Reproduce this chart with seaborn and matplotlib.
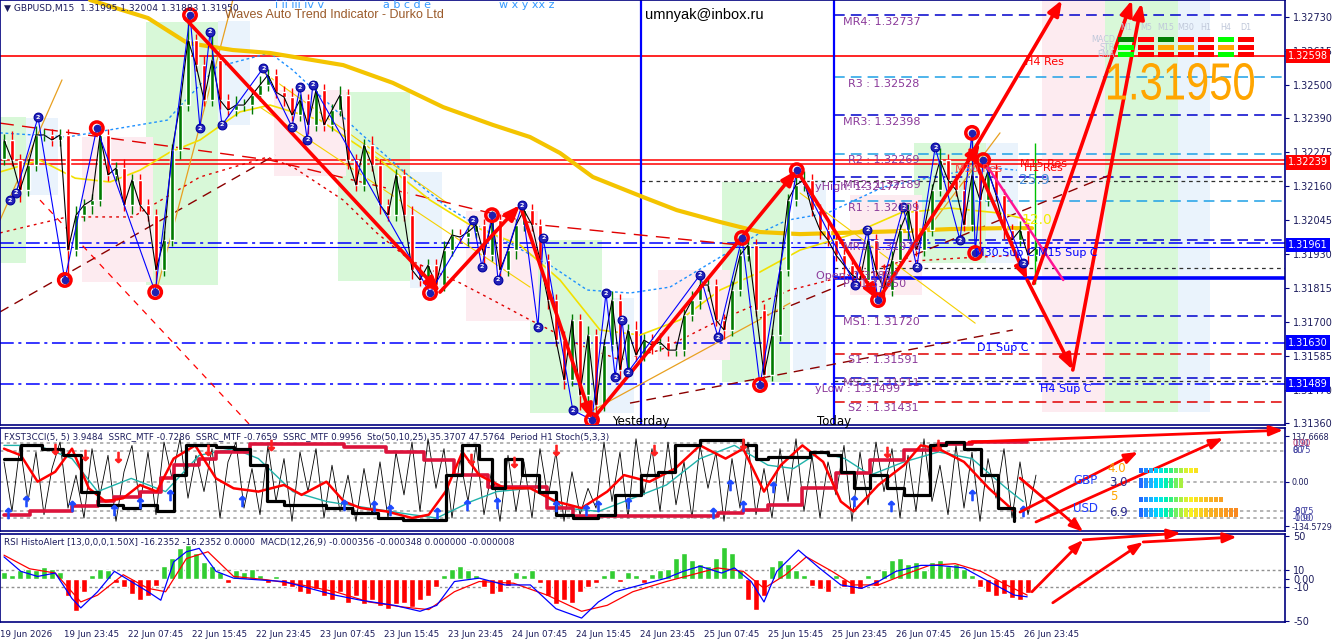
import numpy as np
import pandas as pd
import seaborn as sns
import matplotlib.pyplot as plt
import matplotlib.transforms as mtransforms
from matplotlib.patches import Rectangle, PathPatch
from matplotlib.textpath import TextPath
from matplotlib.font_manager import FontProperties

sns.set_style("white")
plt.rcParams["font.family"] = ["DejaVu Sans"]

# ---------------- price data (hourly) ----------------
first_open = 1.32250
close = [1.32315, 1.32247, 1.32146, 1.32230, 1.32332, 1.32332, 1.32315, 1.32332, 1.31943, 1.32061,
         1.32095, 1.32112, 1.32332, 1.32197, 1.32220, 1.32095, 1.32180, 1.32095, 1.32061, 1.31876,
         1.31977, 1.32281, 1.32433, 1.32653, 1.32568, 1.32450, 1.32585, 1.32450, 1.32416, 1.32433,
         1.32433, 1.32467, 1.32501, 1.32535, 1.32477, 1.32460, 1.32399, 1.32450, 1.32366, 1.32484,
         1.32366, 1.32416, 1.32467, 1.32247, 1.32163, 1.32298, 1.32230, 1.32095, 1.32061, 1.32197,
         1.32061, 1.31876, 1.31842, 1.31892, 1.31825, 1.31943, 1.31994, 1.31987, 1.32004, 1.32028,
         1.31926, 1.32045, 1.31876, 1.31943, 1.32028, 1.32078, 1.32028, 1.31909, 1.31774, 1.31639,
         1.31504, 1.31707, 1.31453, 1.31656, 1.31419, 1.31622, 1.31774, 1.31538, 1.31673, 1.31588,
         1.31639, 1.31622, 1.31632, 1.31605, 1.31605, 1.31723, 1.31774, 1.31825, 1.31825, 1.31707,
         1.31673, 1.31808, 1.31926, 1.31960, 1.31740, 1.31521, 1.31656, 1.31876, 1.32112, 1.32163,
         1.32180, 1.32078, 1.32011, 1.31977, 1.31926, 1.31892, 1.31859, 1.31842, 1.31977, 1.31876,
         1.31808, 1.31909, 1.32011, 1.32078, 1.31943, 1.32011, 1.32146, 1.32247, 1.32180, 1.32146,
         1.32028, 1.32197, 1.32112, 1.32214, 1.32129, 1.32011, 1.31977, 1.32011, 1.31926, 1.31950]
wick_up = [2, 3, 2, 2, 3, 2, 2, 2, 2, 3, 2, 2, 3, 2, 2, 3, 2, 2, 2, 2,
           3, 2, 2, 9, 2, 3, 9, 2, 2, 3, 2, 2, 3, 2, 2, 2, 3, 2, 2, 3,
           2, 2, 3, 2, 2, 2, 3, 2, 2, 2, 2, 3, 2, 2, 2, 3, 2, 2, 2, 3,
           2, 3, 2, 2, 2, 3, 2, 2, 2, 2, 3, 2, 2, 3, 2, 2, 3, 2, 2, 3,
           2, 2, 3, 2, 2, 2, 3, 2, 2, 2, 2, 3, 2, 2, 2, 2, 2, 3, 2, 3,
           3, 2, 2, 3, 2, 2, 2, 3, 2, 2, 2, 3, 2, 2, 3, 2, 2, 4, 2, 2,
           3, 14, 2, 3, 2, 2, 2, 3, 2, 2]
wick_dn = [2, 2, 4, 2, 2, 2, 2, 2, 10, 2, 2, 3, 2, 2, 2, 2, 3, 2, 2, 5,
           2, 2, 3, 2, 2, 2, 2, 3, 2, 2, 2, 3, 2, 2, 2, 3, 2, 2, 3, 2,
           2, 2, 2, 3, 2, 2, 2, 3, 2, 2, 2, 3, 2, 2, 3, 2, 2, 2, 3, 2,
           3, 2, 2, 2, 3, 2, 2, 2, 3, 2, 3, 2, 5, 2, 5, 2, 2, 3, 2, 2,
           2, 3, 2, 2, 2, 2, 2, 3, 2, 2, 3, 2, 2, 2, 2, 4, 2, 2, 2, 2,
           2, 2, 3, 2, 2, 3, 2, 2, 3, 2, 3, 2, 2, 3, 2, 2, 2, 2, 3, 2,
           2, 2, 18, 2, 2, 3, 2, 2, 3, 2]

# moving averages / bands (hour index, price)
ma_gold_h = [10.75, 18, 22.9, 28.6, 33.25, 42.4, 48.6, 54.9, 61.1, 65.75, 69.5, 73.6, 79.9, 84.1, 89.5, 94.5, 99.5, 112, 118.25, 124.5, 128.5]
ma_gold_p = [1.32788, 1.32727, 1.32643, 1.32619, 1.32609, 1.32568, 1.32508, 1.32426, 1.32366, 1.32325, 1.32271, 1.32190, 1.32122, 1.32078, 1.32038, 1.32004, 1.31997, 1.32007, 1.32014, 1.32017, 1.32017]
ma_yel_h = [-0.5, 4.5, 8.9, 13.25, 17, 20.75, 24.5, 29.5, 33.25, 39.5, 47, 53.25, 58.25, 64.5, 69.5, 74.5, 79.5, 84.5, 89.5, 94.5, 99.5, 105.75, 112, 118.25, 124.5, 128.25]
ma_yel_p = [1.32207, 1.32247, 1.32186, 1.32173, 1.32213, 1.32274, 1.32315, 1.32410, 1.32433, 1.32382, 1.32247, 1.32112, 1.32028, 1.31960, 1.31842, 1.31673, 1.31656, 1.31707, 1.31808, 1.31869, 1.31943, 1.31994, 1.32068, 1.32085, 1.32068, 1.32044]
ma_dot_h = [-0.5, 7.9, 20.4, 26.6, 33.25, 36.1, 44.5, 50.75, 55.4, 59.5, 68.6, 72.9, 78.25, 83.25, 89.5, 94.5, 97.9, 102.9, 109.9, 116.1, 122.4, 126.6]
ma_dot_p = [1.32339, 1.32325, 1.32382, 1.32562, 1.32609, 1.32551, 1.32339, 1.32190, 1.32088, 1.32021, 1.31886, 1.31808, 1.31798, 1.31818, 1.31919, 1.32001, 1.32044, 1.32068, 1.32156, 1.32190, 1.32224, 1.32213]
band_h = [-0.5, 7.9, 16.1, 24.5, 32.9, 36.1, 42.4, 46.6, 50.75, 57, 61.1, 65.75, 72, 77, 82, 89.5, 98.25, 105.75, 112, 119.5, 127]
band_p = [1.32001, 1.32055, 1.32055, 1.32190, 1.32257, 1.32224, 1.32112, 1.32001, 1.31909, 1.31832, 1.31774, 1.31707, 1.31622, 1.31572, 1.31605, 1.31707, 1.31808, 1.31859, 1.31903, 1.31916, 1.31926]
redlong_h = [-0.5, 33.25, 67, 92]
redlong_p = [1.32372, 1.32247, 1.32028, 1.31960]

# straight trend lines: (h0, p0, h1, p1)
trend_darkred = [(-0.5, 1.31734, 33.9, 1.32264), (78.25, 1.31426, 126.1, 1.31673), (94.5, 1.31713, 138.25, 1.32197)]
trend_red = [(4.5, 1.32112, 30.75, 1.31352)]
trend_orange = [(-0.5, 1.32044, 7.25, 1.32518), (19.1, 1.31808, 28.6, 1.32788), (73.6, 1.31402, 98.25, 1.31764), (109.5, 1.31798, 124.5, 1.32339)]
trend_yellow = [(99.5, 1.32136, 121.4, 1.31696), (32, 1.32551, 55.4, 1.32102), (32, 1.32426, 65.75, 1.31818)]

# wave zones (hour start, hour end, low, high)
zone_g = [(-0.5, 2.75, 1.31899, 1.32392), (17.75, 26.75, 1.31825, 1.32714), (41.75, 50.75, 1.31838, 1.32477), (65.75, 74.75, 1.31392, 1.31977),
          (89.75, 98.25, 1.31497, 1.32173), (113.75, 122.75, 1.31899, 1.32305), (137.6, 146.75, 1.31396, 1.32788)]
zone_p = [(9.75, 18.6, 1.31835, 1.32325), (33.75, 42.75, 1.32193, 1.32484), (57.75, 66.75, 1.31703, 1.32075), (81.75, 90.75, 1.31572, 1.31876),
          (105.75, 114.75, 1.31791, 1.32129), (129.75, 137.6, 1.31396, 1.32788)]
zone_b = [(2.75, 6.75, 1.32129, 1.32389), (26.75, 30.75, 1.32366, 1.32717), (50.75, 54.75, 1.31815, 1.32207), (74.75, 78.75, 1.31392, 1.31781),
          (98.6, 102.75, 1.31538, 1.32180), (122.75, 126.75, 1.31899, 1.32305), (146.75, 150.75, 1.31396, 1.32788)]

# zigzag swing points
swing_red_h = [7.6, 11.6, 18.9, 23.25, 53.25, 61, 73.5, 92.25, 94.5, 99.1, 109.25, 121, 121.4, 122.4]
swing_red_p = [1.31842, 1.32355, 1.31801, 1.32737, 1.31798, 1.32061, 1.31369, 1.31984, 1.31487, 1.32213, 1.31774, 1.32339, 1.31933, 1.32247]
swing_blue_h = [0.75, 1.5, 4.25, 24.5, 25.75, 27.25, 32.4, 36, 37, 37.9, 38.6, 58.6, 59.75, 61.75, 64.75, 66.75, 67.4, 71.1, 75.25,
                76.4, 77.25, 78, 87, 89.25, 106.4, 107.9, 112.4, 114.1, 116.4, 119.5, 127.4]
swing_blue_p = [1.32112, 1.32136, 1.32392, 1.32355, 1.32680, 1.32366, 1.32558, 1.32359, 1.32494, 1.32315, 1.32501, 1.32044, 1.31886,
                1.31842, 1.32095, 1.31683, 1.31984, 1.31402, 1.31798, 1.31514, 1.31707, 1.31531, 1.31859, 1.31649, 1.31825, 1.32011,
                1.32088, 1.31886, 1.32291, 1.31977, 1.31899]

# big forecast arrows (h0, p0, h1, p1)
wave_arrows = [(22.6, 1.32727, 54.5, 1.31801), (54.5, 1.31801, 64.5, 1.32095), (64.5, 1.32095, 73.5, 1.31369),
               (73.5, 1.31369, 99.1, 1.32213), (99.1, 1.32213, 109.25, 1.31774), (109.25, 1.31774, 122, 1.32305),
               (120.5, 1.32247, 132.25, 1.32788), (120.75, 1.32281, 127.9, 1.31842), (127.9, 1.31842, 133.6, 1.31538),
               (133.6, 1.31538, 142.2, 1.32778), (128.7, 1.31830, 141.0, 1.32788)]

# pivot levels
pivot_names = ["MR4", "R3 ", "MR3", "R2 ", "MR2", "R1 ", "MR1", "P ", "MS1", "S1 ", "MS2", "S2 "]
pivot_values = [1.32737, 1.32528, 1.32398, 1.32269, 1.32189, 1.32109, 1.31976, 1.31850, 1.31720, 1.31591, 1.31511, 1.31431]
today_open = 1.31882
y_high = 1.32177
y_low = 1.31499

price_ticks = [1.32730, 1.32615, 1.32500, 1.32390, 1.32275, 1.32160, 1.32045, 1.31930, 1.31815, 1.31700, 1.31585, 1.31470, 1.31360]
box_prices = [1.32598, 1.32239, 1.31961, 1.31630, 1.31489]

# ---------------- oscillators ----------------
cci_fast = [60, -90, 110, -60, 90, -100, 40, 120, -80, 20, -110, 100, -40, 80, -120, 30, 110, -70, 90, -100,
            120, 10, 130, -50, 80, -30, 100, -110, 60, 120, -80, 40, -100, 110, -60, 70, -120, 90, -30, 100,
            -110, 50, -90, 20, -120, 40, -100, 60, -110, 90, -40, 120, -90, 130, -20, 100, -110, 70, -60, 110,
            -100, 40, -120, 80, -90, 60, -110, 100, -50, 90, -120, 30, -100, -20, -80, 120, -60, 90, -110, 130,
            -40, 100, -90, 120, -70, 60, -110, 110, -20, 90, -120, 70, -80, 120, -100, 40, -110, 100, -60, 130,
            -90, 80, -110, 60, -40, 110, -120, 90, -70, 120, -30, 100, -110, 80, -90, 130, -60, 50, -100, 110,
            -80, 90, -120, 70, -50, 100, -110, 60, -100, 20]
stoch_h = [0, 2.1, 4.8, 7.4, 9.6, 11.7, 14.9, 17, 19.1, 21.2, 22.8, 26.5, 28.7, 30.8, 32.9, 35, 37.2, 40.3, 43.5, 46.7,
           49.9, 53.1, 55.2, 57.3, 59.4, 61, 62.6, 64.8, 66.9, 69, 71.1, 74.3, 76.4, 79.6, 81.7, 83.9, 87, 90.2, 92.4, 94,
           95.5, 98.7, 100.8, 103, 104.6, 106.2, 108.3, 110.4, 112.5, 115.7, 117.8, 120, 122.1, 124.2, 126.3]
stoch_v = [70, 110, 100, 80, -30, -70, -80, -70, -90, 20, 110, 105, 100, 50, -60, -70, -70, -80, -95, -110,
           -115, -115, 20, 110, 70, -20, 70, 20, -30, -100, -110, -100, -40, 20, 30, 110, 125, 125, 110, 70,
           75, 75, 90, 80, 30, -20, 20, -20, -40, 110, 120, 100, 20, -80, -120]
ssrc_h = [0, 2.1, 4.2, 6.4, 8.5, 10.6, 12.7, 14.9, 17, 19.1, 21.2, 23.9, 26.5, 28.7, 31.8, 35, 37.2, 40.3, 42.5, 44.6,
          47.8, 51, 53.1, 55.2, 57.3, 59.4, 62.6, 65.8, 69, 72.2, 75.4, 77.5, 80.7, 83.9, 87, 90.2, 92.4, 95, 97.1, 99.8,
          102.4, 104.6, 106.2, 109.3, 112.5, 114.6, 116.8, 120, 123.1, 126.3]
ssrc_v = [100, 80, 0, 30, 100, -20, -60, -50, -10, -30, 70, 110, 10, -20, -30, -10, -40, 0, -60, -80,
          -90, -110, -100, -30, 90, 20, -20, -20, -60, -80, -30, 20, 0, 40, 110, 70, 100, -30, 50, 110,
          60, -60, -90, -10, 50, 110, 100, 60, -20, -90]
teal_h = [0, 4.2, 8.5, 11.7, 15.9, 20.2, 24.4, 28.7, 31.8, 36.1, 40.3, 45.6, 51, 54.1, 58.4, 61.6, 65.8, 70.1, 74.3, 78.6,
          82.8, 87, 91.3, 95.5, 98.7, 101.9, 105.1, 108.3, 112.5, 116.8, 121, 125.3, 127.4]
teal_v = [110, 110, 70, -30, 10, -30, 80, 100, 70, -30, -60, -80, -100, -110, -60, -30, -20, -80, -90, -50,
          -10, 70, 110, 50, 40, 90, 70, 20, 60, 90, 70, -20, -60]
h1_h = [0, 3.2, 8.5, 11.7, 13.8, 17, 19.6, 21.2, 24.4, 26.5, 30.8, 42.5, 47.8, 52.5, 56.3, 60.5, 67.9, 71.1, 89.2, 92.4,
        95.5, 99.8, 104, 108.3, 112.5, 116.8, 121, 127.9]
h1_v = [-100, -88, -75, -60, -45, -30, 10, 50, 70, 90, 115, 105, 90, 65, 20, -15, -80, -105, -95, -85,
        -70, -20, 25, 65, 95, 115, 120, 120]
up_sig_h = [0.5, 2.7, 8.5, 13.8, 17, 20.7, 29.7, 42.5, 46.2, 48.3, 54.1, 57.9, 61.6, 69, 72.7, 74.3, 78, 88.6, 90.8, 92.4, 96.1, 106.2, 110.9, 121, 127.4]
up_sig_v = [-95, -60, -75, -85, -65, -40, -60, -70, -75, -85, -95, -70, -65, -75, -85, -75, -65, -95, -10, -75, -15, -60, -75, -40, -90]
dn_sig_h = [6.4, 10.1, 14.3, 25.5, 33.4, 58.4, 63.7, 69, 81.2, 92.4, 110.4, 116.8]
dn_sig_v = [100, 80, 75, 95, 110, 70, 60, 95, 95, 115, 90, 110]

rsi_histo = [8, 5, 10, 12, 10, 14, 12, 8, -20, -38, -15, 5, 12, 10, -5, -10, -18, -25, -20, -8,
             15, 25, 36, 40, 30, 20, 15, 8, -5, 10, 8, 12, 5, -5, 3, -8, -10, -15, -18, -12,
             -20, -25, -15, -28, -20, -30, -25, -32, -35, -30, -28, -33, -25, -20, -10, 5, 12, 15, 10, 5,
             -10, -18, -15, -8, 8, 5, 10, -5, -20, -30, -25, -28, -15, -10, -5, 5, 10, -3, 8, 5,
             -5, 6, 10, 12, 25, 30, 22, 18, 15, 25, 38, 30, 10, -25, -36, -20, 15, 22, 18, 10,
             5, -8, -12, -15, 5, -10, -18, -12, 5, -8, 10, 22, 25, 18, 20, 10, 20, 22, 15, 18,
             12, 5, -10, -15, -20, -18, -22, -25, -16]
macd_h = [0, 2.1, 4.2, 6.4, 8.5, 9.6, 11.7, 13.8, 15.9, 18, 19.6, 21.2, 22.8, 24.4, 26.5, 28.7, 31.8, 35, 38.2, 41.4,
          44.6, 48.8, 52, 54.1, 56.3, 59.4, 62.6, 65.8, 69, 72.2, 74.3, 76.4, 79.6, 82.8, 84.9, 87, 89.7, 91.3, 93.4, 95,
          96.6, 99.3, 101.9, 104.6, 107.2, 109.3, 111.5, 114.6, 116.8, 120, 123.1, 126.3, 127.9]
macd_v = [26, 9, 3, 7, -23, -34, -15, 9, -3, -15, -25, 20, 32, 36, 9, 1, -1, -3, -11, -19,
          -25, -31, -38, -31, -3, 1, -7, -7, -35, -46, -27, -15, -7, 1, 9, 15, 7, 13, -3, -27,
          9, 34, 13, -7, -11, -3, 9, 16, 16, 13, -3, -19, -21]
signal_h = [0, 3.2, 6.4, 9.6, 11.7, 14.9, 18, 20.2, 22.8, 25.5, 28.7, 32.9, 37.2, 41.4, 45.6, 49.9, 53.1, 56.3, 59.4, 63.7,
            67.9, 72.2, 75.4, 78.6, 82.8, 86, 89.2, 92.4, 95, 97.7, 100.3, 103.5, 106.2, 109.3, 112.5, 115.7, 118.9, 122.1, 125.3, 127.9]
signal_v = [28, 12, 7, -27, -19, 5, -11, -15, 24, 32, 3, -1, -7, -15, -27, -33, -36, -15, -3, -5,
            -19, -38, -31, -15, -3, 5, 13, 9, -11, 5, 26, 9, -7, -7, 5, 16, 18, 9, -7, -19]

time_labels = ["19 Jun 2026", "19 Jun 23:45", "22 Jun 07:45", "22 Jun 15:45", "22 Jun 23:45", "23 Jun 07:45",
               "23 Jun 15:45", "23 Jun 23:45", "24 Jun 07:45", "24 Jun 15:45", "24 Jun 23:45", "25 Jun 07:45",
               "25 Jun 15:45", "25 Jun 23:45", "26 Jun 07:45", "26 Jun 15:45", "26 Jun 23:45"]

# ---------------- figure ----------------
W, H = 1332, 639
NAVY = "#00007F"
TXT = "#1C1C5C"
PURP = "#8B3A9A"
XL = (-0.5, 160.125)


def fx(px):
    return px / W


def fy(py):
    return 1 - py / H


fig = plt.figure(figsize=(W / 100, H / 100), dpi=100)
fig.patch.set_facecolor("white")
AW = 1285 / W
ax1 = fig.add_axes([0, fy(425), AW, 425 / H])
ax2 = fig.add_axes([0, fy(531), AW, 103 / H])
ax3 = fig.add_axes([0, fy(622), AW, 88 / H])

for ax in (ax1, ax2, ax3):
    ax.set_xlim(*XL)
    for s in ax.spines.values():
        s.set_color(NAVY)
        s.set_linewidth(1.2)
    ax.yaxis.tick_right()
    ax.tick_params(axis="y", direction="out", length=3, width=0.8, color=NAVY,
                   labelsize=7, labelcolor=TXT, pad=3)
    ax.set_xticks([])

# ======== main price panel ========
ax1.set_ylim(1.31352, 1.32788)

for z, col in ((zone_g, "#D8F8D8"), (zone_p, "#FDEBF0"), (zone_b, "#EAF3FC")):
    for h0, h1, lo, hi in z:
        ax1.add_patch(Rectangle((h0, lo), h1 - h0, hi - lo, facecolor=col, edgecolor="none", zorder=0))

# full-width levels
ax1.axhline(1.32598, color="red", lw=1.2, zorder=1)
ax1.axhline(1.32247, color="red", lw=1.1, zorder=1)
ax1.axhline(1.32234, color="red", lw=1.1, zorder=1)
dashdot = (0, (9, 3, 2, 3))
for lvl in (1.31966, 1.31630, 1.31489):
    ax1.axhline(lvl, color="#0000FF", lw=1.1, ls=dashdot, zorder=1)
ax1.axhline(1.31955, color="#0000FF", lw=0.8, zorder=1)

# pivot levels from today
today_h, yday_h = 103.75, 79.6
for name, v in zip(pivot_names, pivot_values):
    if name.startswith("M"):
        ax1.hlines(v, today_h, XL[1], color="#0000CC", lw=1.1, ls=(0, (7, 4)), zorder=1)
    elif name.startswith("P"):
        ax1.hlines(v, today_h, XL[1], color="#0000FF", lw=2.6, zorder=1)
    elif name.startswith("R"):
        ax1.hlines(v, today_h, XL[1], color="#1EA0E6", lw=1.1, ls=(0, (7, 4)), zorder=1)
    else:
        ax1.hlines(v, today_h, XL[1], color="#E00000", lw=1.1, ls=(0, (7, 4)), zorder=1)
ax1.hlines(today_open, today_h, XL[1], color="#303030", lw=0.9, ls=(0, (3, 3)), zorder=1)
ax1.hlines(y_high, yday_h, XL[1], color="#303030", lw=0.9, ls=(0, (3, 3)), zorder=1)
ax1.hlines(y_low, today_h, XL[1], color="#303030", lw=0.9, ls=(0, (3, 3)), zorder=1)

ax1.axvline(yday_h, color="#0000FF", lw=1.6, zorder=2)
ax1.axvline(today_h, color="#0000FF", lw=1.6, zorder=2)

# trend lines
for h0, p0, h1, p1 in trend_darkred:
    ax1.plot([h0, h1], [p0, p1], color="#8B0000", lw=1.0, ls=(0, (7, 5)), zorder=2)
for h0, p0, h1, p1 in trend_red:
    ax1.plot([h0, h1], [p0, p1], color="#FF0000", lw=0.9, ls=(0, (5, 5)), zorder=2)
for h0, p0, h1, p1 in trend_orange:
    ax1.plot([h0, h1], [p0, p1], color="#E8A020", lw=0.9, zorder=2)
for h0, p0, h1, p1 in trend_yellow:
    ax1.plot([h0, h1], [p0, p1], color="#F5D000", lw=0.8, zorder=2)

sns.lineplot(x=band_h, y=band_p, ax=ax1, color="#E00000", lw=1.0, ls=(0, (2, 3)), sort=False, estimator=None, zorder=2)
sns.lineplot(x=redlong_h, y=redlong_p, ax=ax1, color="#E00000", lw=1.0, ls=(0, (10, 6)), sort=False, estimator=None, zorder=2)
sns.lineplot(x=ma_dot_h, y=ma_dot_p, ax=ax1, color="#1E90FF", lw=1.0, ls=(0, (2, 2)), sort=False, estimator=None, zorder=2)
sns.lineplot(x=ma_yel_h, y=ma_yel_p, ax=ax1, color="#F2E000", lw=1.2, sort=False, estimator=None, zorder=2)
sns.lineplot(x=ma_gold_h, y=ma_gold_p, ax=ax1, color="#F4C400", lw=3.0, sort=False, estimator=None, zorder=3)

# candles
k = np.arange(len(close))
opens = np.array([first_open] + close[:-1])
closes = np.array(close)
highs = np.maximum(opens, closes) + np.array(wick_up) * 0.0001
lows = np.minimum(opens, closes) - np.array(wick_dn) * 0.0001
cols = np.where(closes >= opens, "#007A00", "#FF0000")
ax1.vlines(k, lows, highs, colors=cols, lw=1.0, zorder=4)
ax1.bar(k, closes - opens, bottom=opens, width=0.45, color=cols, zorder=4)
ax1.vlines(128.9, 1.32305, 1.31830, colors="#00C000", lw=1.0, zorder=4)

# fast line and zigzag
sns.lineplot(x=k, y=closes, ax=ax1, color="black", lw=0.8, sort=False, estimator=None, zorder=5)
zz = pd.DataFrame({"h": swing_blue_h + swing_red_h, "p": swing_blue_p + swing_red_p}).sort_values("h")
sns.lineplot(data=zz, x="h", y="p", ax=ax1, color="#0000FF", lw=0.8, sort=False, estimator=None, zorder=5)

for h0, p0, h1, p1 in wave_arrows:
    ax1.annotate("", xy=(h1, p1), xytext=(h0, p0), annotation_clip=False,
                 arrowprops=dict(arrowstyle="-|>,head_length=0.9,head_width=0.35", color="#FF0000", lw=2.6,
                                 shrinkA=0, shrinkB=0), zorder=7)
ax1.plot([122.4, 132.4], [1.32247, 1.31842], color="#FF1493", lw=1.8, zorder=6)

ax1.scatter(swing_red_h, swing_red_p, s=80, facecolors="none", edgecolors="#FF0000", linewidths=2.5, zorder=8)
ax1.scatter(swing_red_h, swing_red_p, s=20, color="#2020B0", zorder=9)
ax1.scatter(swing_blue_h, swing_blue_p, s=40, color="#2424B8", edgecolors="#0000A0", linewidths=0.8, zorder=8)
for h, p in zip(swing_blue_h, swing_blue_p):
    ax1.text(h, p, "2", color="white", fontsize=4.5, ha="center", va="center", zorder=9, fontweight="bold")

ax1.set_yticks(price_ticks)
ax1.set_yticklabels([f"{v:.5f}" for v in price_ticks])
btr = mtransforms.blended_transform_factory(ax1.transAxes, ax1.transData)
for v, c in zip(box_prices, ["#FF0000", "#FF0000", "#0000FF", "#0000FF", "#0000FF"]):
    ax1.text(1.0025, v, f"{v:.5f}", transform=btr, color="white", fontsize=7, va="center", ha="left",
             bbox=dict(facecolor=c, edgecolor="none", pad=1.6), zorder=10, clip_on=False)

# pivot labels (pixel placed)
lab_pos = [(843, 22), (848, 84), (843, 122), (848, 160), (843, 185), (848, 208), (843, 247), (843, 284),
           (843, 322), (848, 360), (843, 383), (848, 408)]
for (px, py), name, v in zip(lab_pos, pivot_names, pivot_values):
    fig.text(fx(px), fy(py), f"{name}: {v:.5f}", color=PURP, fontsize=8, va="center", ha="left", zorder=10)
fig.text(fx(816), fy(276), f"Open: {today_open:.5f}", color=PURP, fontsize=8, va="center")
fig.text(fx(815), fy(187), f"yHigh: {y_high:.5f}", color=PURP, fontsize=8, va="center")
fig.text(fx(815), fy(389), f"yLow : {y_low:.5f}", color=PURP, fontsize=8, va="center")

for txt, px, py, c, fs in [("H4 Res", 1025, 62, "#FF0000", 8), ("M30 Res", 955, 169, "#FF4040", 8),
                           ("M15 Res", 1020, 164, "#FF0000", 8), ("H1 Res", 1024, 168, "#FF0000", 8),
                           ("25.9", 1019, 180, "#4A90D9", 10), ("12.0", 1021, 220, "#EEEE00", 10),
                           ("M30 Sup C", 975, 253, "#0000FF", 8), ("M15 Sup C", 1038, 253, "#0000FF", 8),
                           ("D1 Sup C", 977, 348, "#0000FF", 8), ("H4 Sup C", 1040, 389, "#0000FF", 8)]:
    fig.text(fx(px), fy(py), txt, color=c, fontsize=fs, va="center", ha="left")

fig.text(fx(612), fy(421), "Yesterday", color="black", fontsize=8.5, va="center")
fig.text(fx(817), fy(421), "Today", color="black", fontsize=8.5, va="center")
fig.text(fx(4), fy(8), "\u25BC GBPUSD,M15  1.31995 1.32004 1.31883 1.31950", color=TXT, fontsize=6.6, va="center")
fig.text(fx(225), fy(15), "Waves Auto Trend Indicator - Durko Ltd", color="#9A5A2A", fontsize=9,
         family=["Liberation Sans", "DejaVu Sans"], va="center")
fig.text(fx(275), fy(5), "i ii iii iv v", color="#3399FF", fontsize=8, va="center")
fig.text(fx(383), fy(5), "a b c d e", color="#3399FF", fontsize=8, va="center")
fig.text(fx(499), fy(5), "w x y xx z", color="#3399FF", fontsize=8, va="center")
fig.text(fx(645), fy(15), "umnyak@inbox.ru", color="black", fontsize=10.5,
         family=["Liberation Sans", "DejaVu Sans"], va="center")

# big last-price readout, drawn as a narrowed text path (real glyphs, condensed)
tp = TextPath((0, 0), "1.31950", size=1, prop=FontProperties(family="Liberation Sans"))
ext = tp.get_extents()
sx, sy = 146 / ext.width, 37 / ext.height
big_tr = mtransforms.Affine2D().translate(-ext.x0, -ext.y0).scale(sx, sy).translate(1108, H - 100)
fig.add_artist(PathPatch(tp, transform=big_tr, facecolor="#FFA500", edgecolor="none", zorder=6))

# MTF trend matrix
tf_names = ["M1", "M5", "M15", "M30", "H1", "H4", "D1"]
mtf_rows = ["MACD", "STR", "EMA"]
mtf_colors = [["#008000", "#FF0000", "#008000", "#FF0000", "#FF0000", "#00FF00", "#FF0000"],
              ["#00FF00", "#FF0000", "#FFA500", "#FFA500", "#FF0000", "#FFA500", "#FF0000"],
              ["#00FF00", "#FF0000", "#FF0000", "#FF0000", "#FF0000", "#00FF00", "#FF0000"]]
for j, tf in enumerate(tf_names):
    cx = 1118 + 20 * j
    fig.text(fx(cx + 8), fy(28), tf, color="#C0C8DA", fontsize=5.8, ha="center", va="center")
    for r in range(3):
        fig.patches.append(Rectangle((fx(cx), fy(37 + 7.5 * r + 5)), 16 / W, 5 / H,
                                     transform=fig.transFigure, facecolor=mtf_colors[r][j], edgecolor="none"))
for r, name in enumerate(mtf_rows):
    fig.text(fx(1115), fy(39.5 + 7.5 * r), name, color="#C0C8DA", fontsize=5.8, ha="right", va="center")

# ======== oscillator panel ========
ax2.set_ylim(-149.4, 162.7)
for lvl in (116, 94, 0, -89, -111):
    ax2.axhline(lvl, color="#A8A8A8", lw=1.2, ls=(0, (2, 2)), zorder=1)
sns.lineplot(x=np.arange(len(cci_fast)), y=cci_fast, ax=ax2, color="black", lw=0.6, sort=False, estimator=None, zorder=2)
sns.lineplot(x=teal_h, y=teal_v, ax=ax2, color="#20B2AA", lw=1.0, sort=False, estimator=None, zorder=3)
sns.lineplot(x=h1_h, y=h1_v, ax=ax2, color="#DC143C", lw=2.6, drawstyle="steps-post", sort=False, estimator=None, zorder=3)
sns.lineplot(x=ssrc_h, y=ssrc_v, ax=ax2, color="#FF0000", lw=1.8, sort=False, estimator=None, zorder=4)
sns.lineplot(x=stoch_h, y=stoch_v, ax=ax2, color="black", lw=2.3, drawstyle="steps-post", sort=False, estimator=None, zorder=4)
ax2.scatter(up_sig_h, up_sig_v, marker="$\u2191$", s=55, color="#1E4BFF", zorder=5)
ax2.scatter(dn_sig_h, dn_sig_v, marker="$\u2193$", s=55, color="#FF2020", zorder=5)
ax2.set_yticks([137.6668, 0, -134.5729])
ax2.set_yticklabels(["137.6668", "0.00", "-134.5729"])
ax2.tick_params(axis="y", labelsize=5.8, pad=1.5)
btr2 = mtransforms.blended_transform_factory(ax2.transAxes, ax2.transData)
for v, t, c in [(116, "100", "#4040A0"), (116, "0.90", "#C03060"), (94, "80", "#4040A0"), (94, "0.75", "#4040A0"),
                (-89, "-0.75", "#4040A0"), (-89, "-80", "#4040A0"), (-111, "-100", "#4040A0"), (-111, "-0.90", "#4040A0")]:
    ax2.text(1.006, v, t, transform=btr2, fontsize=6.0, color=c, va="center", ha="left", clip_on=False)
fig.text(fx(4), fy(437), "FXST3CCI(5, 5) 3.9484  SSRC_MTF -0.7286  SSRC_MTF -0.7659  SSRC_MTF 0.9956  "
         "Sto(50,10,25) 35.3707 47.5764  Period H1 Stoch(5,3,3)", color=TXT, fontsize=6.3, va="center")

# currency strength block
strength_rows = [(470, 12), (483, 9), (499, 17), (512, 20)]
grad = ["#1E6BFF", "#1E90FF", "#18B0FF", "#00D0FF", "#00E8E0", "#00F0B0", "#30F080", "#70F060",
        "#A8F040", "#D8F030", "#F8F020", "#F8E020", "#F8D020", "#F8C020", "#F8B020", "#F8A820",
        "#F8A020", "#F89820", "#F89020", "#F88820"]
for (py, n), hgt in zip(strength_rows, (5, 10, 5, 9)):
    for i in range(n):
        fig.patches.append(Rectangle((fx(1139 + 5 * i), fy(py + hgt / 2)), 4.2 / W, hgt / H,
                                     transform=fig.transFigure, facecolor=grad[i], edgecolor="none"))
for txt, px, py, c in [("GBP", 1073, 480, "#1E3CFF"), ("4.0", 1107, 469, "#FFA500"), ("3.0", 1109, 483, "#2A2A90"),
                       ("5", 1110, 497, "#FFA500"), ("USD", 1073, 509, "#1E3CFF"), ("6.9", 1109, 513, "#2A2A90")]:
    fig.text(fx(px), fy(py), txt, color=c, fontsize=8.5, va="center")

# ======== RSI histo / MACD panel ========
ax3.set_ylim(-50.6, 52.9)
for lvl in (10, -10):
    ax3.axhline(lvl, color="#909090", lw=1.0, ls=(0, (2, 2)), zorder=1)
hist_cols = ["#32CD32" if v >= 0 else "#FF0000" for v in rsi_histo]
ax3.bar(np.arange(len(rsi_histo)), rsi_histo, width=0.8, color=hist_cols, zorder=2)
sns.lineplot(x=signal_h, y=signal_v, ax=ax3, color="#FF0000", lw=0.9, sort=False, estimator=None, zorder=3)
sns.lineplot(x=macd_h, y=macd_v, ax=ax3, color="#0000FF", lw=0.9, sort=False, estimator=None, zorder=3)
ax3.set_yticks([50, 10, 0, -10, -50])
ax3.set_yticklabels(["50", "10", "0.00", "-10", "-50"])
fig.text(fx(4), fy(543), "RSI HistoAlert [13,0,0,0,1.50X] -16.2352 -16.2352 0.0000  MACD(12,26,9) -0.000356 "
         "-0.000348 0.000000 -0.000008", color=TXT, fontsize=6.3, va="center")

tick_h = [-0.5] + [7.5 + 8 * i for i in range(len(time_labels) - 1)]
ax3.set_xticks(tick_h)
ax3.set_xticklabels(time_labels, ha="left", fontsize=6.3, color=TXT)
ax3.tick_params(axis="x", direction="out", length=4, color=NAVY, pad=2)

# forecast arrows in the lower panels
for ax, segs in ((ax2, [(120.6, 120, 159.9, 156), (127, 11, 134.9, -152), (127, -92, 141.75, 90), (129, -122, 152.4, 132)]),
                 (ax3, [(128.5, -15, 134.9, 46), (134.9, 46, 147.1, 54), (131.1, -28, 142.4, 43.5), (142.4, 43.5, 154.1, 49.4)])):
    for h0, v0, h1, v1 in segs:
        ax.annotate("", xy=(h1, v1), xytext=(h0, v0), annotation_clip=False,
                    arrowprops=dict(arrowstyle="-|>,head_length=0.8,head_width=0.3", color="#FF0000", lw=2.0,
                                    shrinkA=0, shrinkB=0), zorder=7)

for ax in (ax1, ax2, ax3):
    ax.set_xlabel("")
    ax.set_ylabel("")

fig.savefig("out.png", dpi=100)
